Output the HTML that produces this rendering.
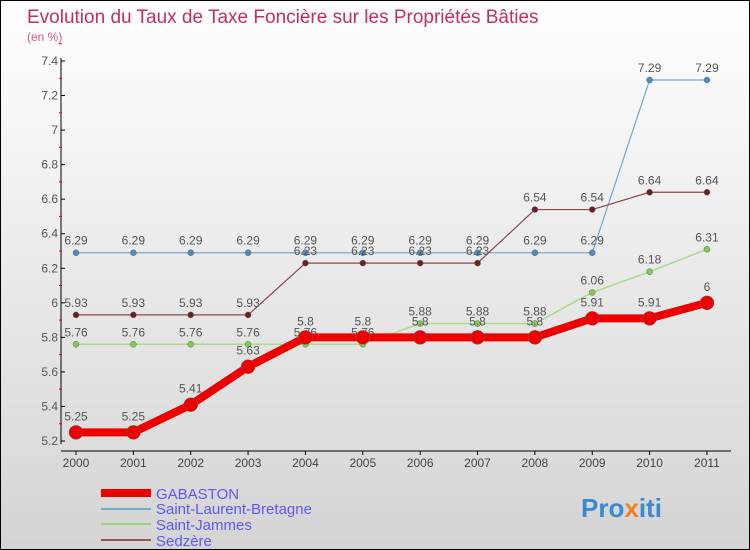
<!DOCTYPE html>
<html><head><meta charset="utf-8"><style>
body{margin:0}
#c{width:748px;height:548px;border:1px solid #000;background:linear-gradient(#ffffff,#d4d4d4);position:relative;font-family:"Liberation Sans",sans-serif;overflow:hidden}
</style></head><body>
<div id="c">
<svg id="s" width="748" height="548" xmlns="http://www.w3.org/2000/svg">
<text x="26" y="22" font-size="19" fill="#c0305a">Evolution du Taux de Taxe Foncière sur les Propriétés Bâties</text>
<text x="26" y="40" font-size="12" fill="#d05a80">(en %)</text>
<g id="axes"></g><g id="series"></g>
<g>
<rect x="100" y="488" width="50" height="8" fill="#ee0000"/>
<text x="155" y="498" font-size="15" fill="#5a5af0">GABASTON</text>
<line x1="100" y1="508" x2="150" y2="508" stroke="#7aa8c8" stroke-width="2"/>
<text x="155" y="513" font-size="15" fill="#5a5af0">Saint-Laurent-Bretagne</text>
<line x1="100" y1="523" x2="150" y2="523" stroke="#99d47a" stroke-width="2"/>
<text x="155" y="529" font-size="15" fill="#5a5af0">Saint-Jammes</text>
<line x1="100" y1="539" x2="150" y2="539" stroke="#905858" stroke-width="2"/>
<text x="155" y="545" font-size="15" fill="#5a5af0">Sedzère</text>
</g>
<text x="580" y="516" font-size="26" font-weight="bold" fill="#3a8ad0">Pro<tspan fill="#f08020">x</tspan>iti</text>
</svg>
</div>
<script>
const years=["2000","2001","2002","2003","2004","2005","2006","2007","2008","2009","2010","2011"];
const gabaston=[5.25,5.25,5.41,5.63,5.8,5.8,5.8,5.8,5.8,5.91,5.91,6];
const saintLaurent=[6.29,6.29,6.29,6.29,6.29,6.29,6.29,6.29,6.29,6.29,7.29,7.29];
const saintJammes=[5.76,5.76,5.76,5.76,5.76,5.76,5.88,5.88,5.88,6.06,6.18,6.31];
const sedzere=[5.93,5.93,5.93,5.93,6.23,6.23,6.23,6.23,6.54,6.54,6.64,6.64];
const yTicks=["5.2","5.4","5.6","5.8","6","6.2","6.4","6.6","6.8","7","7.2","7.4"];
const NS="http://www.w3.org/2000/svg";
const X=i=>75+i*57.36;
const Y=v=>440-(v-5.2)/2.2*380;
function mk(t,a,p){const e=document.createElementNS(NS,t);for(const k in a)e.setAttribute(k,a[k]);p.appendChild(e);return e;}
const ax=document.getElementById('axes'),sr=document.getElementById('series');
let l=mk('line',{x1:60,y1:57,x2:60,y2:443,stroke:'#000'},ax);


l=mk('line',{x1:60,y1:450,x2:730,y2:450,stroke:'#000'},ax);


yTicks.forEach(t=>{const y=Y(parseFloat(t));
mk('line',{x1:60,y1:y,x2:64,y2:y,stroke:'#000'},ax);
mk('line',{x1:58,y1:y-17.3,x2:61,y2:y-17.3,stroke:'#e00'},ax);
const e=mk('text',{x:57,y:y+4,'font-size':12,fill:'#555','text-anchor':'end'},ax);e.textContent=t;

});
years.forEach((t,i)=>{mk('line',{x1:X(i),y1:450,x2:X(i),y2:454,stroke:'#000'},ax);
const e=mk('text',{x:X(i),y:466,'font-size':12,fill:'#444','text-anchor':'middle'},ax);e.textContent=t;

});
function series(d,name,col,pc,w,r){
const g=mk('g',{},sr);


mk('polyline',{points:d.map((v,i)=>X(i)+','+Y(v)).join(' '),fill:'none',stroke:col,'stroke-width':w},g);
d.forEach((v,i)=>{const c=mk('circle',{cx:X(i),cy:Y(v),r:r,fill:pc,stroke:'#666','stroke-width':0.5},g);


const e=mk('text',{x:X(i),y:Y(v)-(r+5),'font-size':12,fill:'#555','text-anchor':'middle'},g);e.textContent=String(v);});}
series(saintLaurent,'saint-laurent','#7aa8d0','#4a8ac8',1.2,3);
series(sedzere,'sedzere','#8a4848','#6a2020',1.2,3);
series(saintJammes,'saint-jammes','#a8dc88','#80cc50',1.5,3);
series(gabaston,'gabaston','#ee0000','#ee0000',8,7);
</script>
</body></html>
